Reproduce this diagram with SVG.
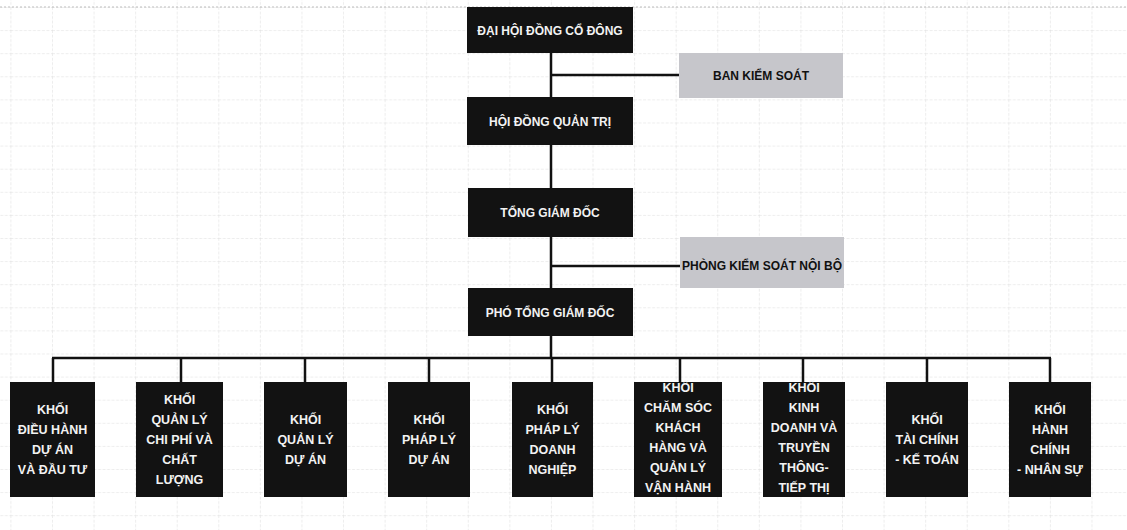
<svg xmlns="http://www.w3.org/2000/svg" width="1127" height="530" viewBox="0 0 1127 530">
<style>
.box{fill:#121212;}
.gray{fill:#c6c6cb;}
.wt{fill:#f2f2f2;font-family:"Liberation Sans",Arial,sans-serif;font-weight:bold;font-size:12px;text-anchor:middle;}
.ws{font-size:12.5px;}
.bt{fill:#111;font-family:"Liberation Sans",Arial,sans-serif;font-weight:bold;font-size:12px;text-anchor:middle;}
.con{stroke:#111;stroke-width:2.5;fill:none;}
</style>
<defs>
<pattern id="grid" x="10.4" y="7" width="41.58" height="23.1" patternUnits="userSpaceOnUse">
<path d="M0 0H41.58M0 0V23.1" stroke="#dcdcdc" stroke-width="1" fill="none" stroke-dasharray="3 1.5"/>
</pattern>
</defs>
<rect width="1127" height="530" fill="#ffffff"/>
<rect x="0" y="0" width="1127" height="530" fill="url(#grid)"/>
<line x1="0" y1="7" x2="1127" y2="7" stroke="#bdbdbd" stroke-width="1" stroke-dasharray="2 2"/>

<g id="connectors">
<path class="con" d="M551 53V97M551 75H680M551 145V188M551 237V288M551 266H680M551 336V358M52 358H1051"/>
<path class="con" d="M53 358V382M181 358V382M305 358V382M429 358V382M552 358V382M680 358V382M803 358V382M927 358V382M1050 358V382"/>
</g>

<g id="n-dhdcd"><rect class="box" x="467" y="7" width="166" height="46"/><text class="wt" x="550" y="35">ĐẠI HỘI ĐỒNG CỔ ĐÔNG</text></g>
<g id="n-bks"><rect class="gray" x="679" y="53" width="164" height="45"/><text class="bt" x="761" y="80">BAN KIỂM SOÁT</text></g>
<g id="n-hdqt"><rect class="box" x="467" y="97" width="166" height="48"/><text class="wt" x="550" y="126">HỘI ĐỒNG QUẢN TRỊ</text></g>
<g id="n-tgd"><rect class="box" x="468" y="188" width="165" height="49"/><text class="wt" x="550" y="217">TỔNG GIÁM ĐỐC</text></g>
<g id="n-pksnb"><rect class="gray" x="680" y="237" width="164" height="51"/><text class="bt" x="762" y="270">PHÒNG KIỂM SOÁT NỘI BỘ</text></g>
<g id="n-ptgd"><rect class="box" x="468" y="288" width="165" height="48"/><text class="wt" x="550" y="317">PHÓ TỔNG GIÁM ĐỐC</text></g>

<g id="k1"><rect class="box" x="10" y="382" width="85" height="115"/><text class="wt ws"><tspan x="52.5" y="414">KHỐI</tspan><tspan x="52.5" y="434">ĐIỀU HÀNH</tspan><tspan x="52.5" y="454">DỰ ÁN</tspan><tspan x="52.5" y="474">VÀ ĐẦU TƯ</tspan></text></g>
<g id="k2"><rect class="box" x="136" y="382" width="87" height="115"/><text class="wt ws"><tspan x="179.5" y="404">KHỐI</tspan><tspan x="179.5" y="424">QUẢN LÝ</tspan><tspan x="179.5" y="444">CHI PHÍ VÀ</tspan><tspan x="179.5" y="464">CHẤT</tspan><tspan x="179.5" y="484">LƯỢNG</tspan></text></g>
<g id="k3"><rect class="box" x="264" y="382" width="83" height="115"/><text class="wt ws"><tspan x="305.5" y="424">KHỐI</tspan><tspan x="305.5" y="444">QUẢN LÝ</tspan><tspan x="305.5" y="464">DỰ ÁN</tspan></text></g>
<g id="k4"><rect class="box" x="388" y="382" width="82" height="115"/><text class="wt ws"><tspan x="429" y="424">KHỐI</tspan><tspan x="429" y="444">PHÁP LÝ</tspan><tspan x="429" y="464">DỰ ÁN</tspan></text></g>
<g id="k5"><rect class="box" x="512" y="382" width="81" height="115"/><text class="wt ws"><tspan x="552.5" y="414">KHỐI</tspan><tspan x="552.5" y="434">PHÁP LÝ</tspan><tspan x="552.5" y="454">DOANH</tspan><tspan x="552.5" y="474">NGHIỆP</tspan></text></g>
<g id="k6"><rect class="box" x="634" y="382" width="88" height="115"/><text class="wt ws"><tspan x="678" y="392">KHỐI</tspan><tspan x="678" y="412">CHĂM SÓC</tspan><tspan x="678" y="432">KHÁCH</tspan><tspan x="678" y="452">HÀNG VÀ</tspan><tspan x="678" y="472">QUẢN LÝ</tspan><tspan x="678" y="492">VẬN HÀNH</tspan></text></g>
<g id="k7"><rect class="box" x="763" y="382" width="82" height="115"/><text class="wt ws"><tspan x="804" y="392">KHỐI</tspan><tspan x="804" y="412">KINH</tspan><tspan x="804" y="432">DOANH VÀ</tspan><tspan x="804" y="452">TRUYỀN</tspan><tspan x="804" y="472">THÔNG-</tspan><tspan x="804" y="492">TIẾP THỊ</tspan></text></g>
<g id="k8"><rect class="box" x="886" y="382" width="82" height="115"/><text class="wt ws"><tspan x="927" y="424">KHỐI</tspan><tspan x="927" y="444">TÀI CHÍNH</tspan><tspan x="927" y="464">- KẾ TOÁN</tspan></text></g>
<g id="k9"><rect class="box" x="1009" y="382" width="82" height="115"/><text class="wt ws"><tspan x="1050" y="414">KHỐI</tspan><tspan x="1050" y="434">HÀNH</tspan><tspan x="1050" y="454">CHÍNH</tspan><tspan x="1050" y="474">- NHÂN SỰ</tspan></text></g>
</svg>
